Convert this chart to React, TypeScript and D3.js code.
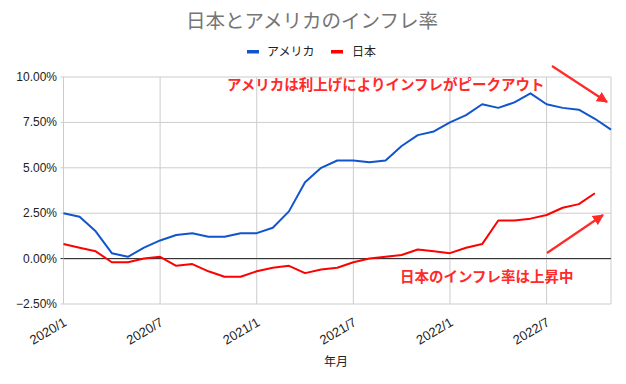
import React from "react";
import * as d3 from "d3";

const months = [
  "2020/1", "2020/2", "2020/3", "2020/4", "2020/5", "2020/6", "2020/7", "2020/8", "2020/9", "2020/10", "2020/11", "2020/12",
  "2021/1", "2021/2", "2021/3", "2021/4", "2021/5", "2021/6", "2021/7", "2021/8", "2021/9", "2021/10", "2021/11", "2021/12",
  "2022/1", "2022/2", "2022/3", "2022/4", "2022/5", "2022/6", "2022/7", "2022/8", "2022/9", "2022/10", "2022/11",
];
const tickMonths = ["2020/1", "2020/7", "2021/1", "2021/7", "2022/1", "2022/7"];
const usa = [2.5, 2.3, 1.5, 0.3, 0.1, 0.6, 1.0, 1.3, 1.4, 1.2, 1.2, 1.4, 1.4, 1.7, 2.6, 4.2, 5.0, 5.4, 5.4, 5.3, 5.4, 6.2, 6.8, 7.0, 7.5, 7.9, 8.5, 8.3, 8.6, 9.1, 8.5, 8.3, 8.2, 7.7, 7.1];
const japan = [0.8, 0.6, 0.4, -0.2, -0.2, 0.0, 0.1, -0.4, -0.3, -0.7, -1.0, -1.0, -0.7, -0.5, -0.4, -0.8, -0.6, -0.5, -0.2, 0.0, 0.1, 0.2, 0.5, 0.4, 0.3, 0.6, 0.8, 2.1, 2.1, 2.2, 2.4, 2.8, 3.0, 3.6];
const yTicks = [-2.5, 0, 2.5, 5, 7.5, 10];

const FONT = "Arial, 'Liberation Sans', 'Noto Sans CJK JP', sans-serif";
const BLUE = "#1155cc";
const RED = "#ff0000";
const NOTE = "#ff2a2a";

export default function App() {
  const width = 626, height = 384;
  const left = 63.5, right = 611, top = 77, bottom = 304;

  const x = d3.scalePoint<string>().domain(months).range([left, right]);
  const y = d3.scaleLinear().domain([-2.5, 10]).range([bottom, top]);
  const fmt = d3.format(".2f");

  const line = d3.line<number>()
    .x((_, i) => x(months[i]) as number)
    .y(d => y(d));

  return (
    <svg width={width} height={height} style={{ position: "absolute", left: 0, top: 0, background: "#fff" }} fontFamily={FONT}>
      <defs>
        <marker id="head" viewBox="0 0 10 10" refX="9" refY="5" markerWidth="5" markerHeight="5" orient="auto" markerUnits="strokeWidth">
          <path d="M0,0 L10,5 L0,10 z" fill={NOTE} />
        </marker>
      </defs>

      <text x={312} y={28} textAnchor="middle" fontSize={19.5} fill="#757575">日本とアメリカのインフレ率</text>

      {/* legend */}
      <rect x={247} y={50} width={12} height={3.5} fill={BLUE} />
      <text x={267} y={56} fontSize={12} fill="#222">アメリカ</text>
      <rect x={331} y={50} width={12} height={3.5} fill={RED} />
      <text x={352} y={56} fontSize={12} fill="#222">日本</text>

      {/* grid */}
      {yTicks.map(t => (
        <g key={t}>
          <line x1={left - 3} x2={right} y1={y(t)} y2={y(t)} stroke={t === 0 ? "#333" : "#cccccc"} strokeWidth={1} />
          <text x={57} y={y(t) + 4} textAnchor="end" fontSize={12} fill="#222">{fmt(t)}%</text>
        </g>
      ))}
      {tickMonths.map(m => (
        <g key={m}>
          <line x1={x(m)} x2={x(m)} y1={top} y2={bottom} stroke="#cccccc" strokeWidth={1} />
          <text transform={`translate(${(x(m) as number) + 4},${bottom + 21}) rotate(-30)`} textAnchor="end" fontSize={13} fill="#222">{m}</text>
        </g>
      ))}
      <line x1={right} x2={right} y1={top} y2={bottom} stroke="#cccccc" strokeWidth={1} />
      <line x1={left} x2={left} y1={top} y2={bottom} stroke="#cccccc" strokeWidth={1} />
      <line x1={left} x2={right} y1={y(0)} y2={y(0)} stroke="#333" strokeWidth={1} />

      <text x={336} y={366} textAnchor="middle" fontSize={12} fill="#222">年月</text>

      {/* series */}
      <path d={line(usa) ?? ""} fill="none" stroke={BLUE} strokeWidth={2} strokeLinejoin="round" />
      <path d={line(japan) ?? ""} fill="none" stroke={RED} strokeWidth={2} strokeLinejoin="round" />

      {/* annotations */}
      <text x={227} y={90} fontSize={14.5} fontWeight="bold" fill={NOTE}>アメリカは利上げによりインフレがピークアウト</text>
      <text x={400} y={282} fontSize={14.5} fontWeight="bold" fill={NOTE}>日本のインフレ率は上昇中</text>
      <line x1={552} y1={66} x2={607} y2={102} stroke={NOTE} strokeWidth={2.2} markerEnd="url(#head)" />
      <line x1={547} y1={253} x2={603} y2={215} stroke={NOTE} strokeWidth={2.2} markerEnd="url(#head)" />
    </svg>
  );
}
